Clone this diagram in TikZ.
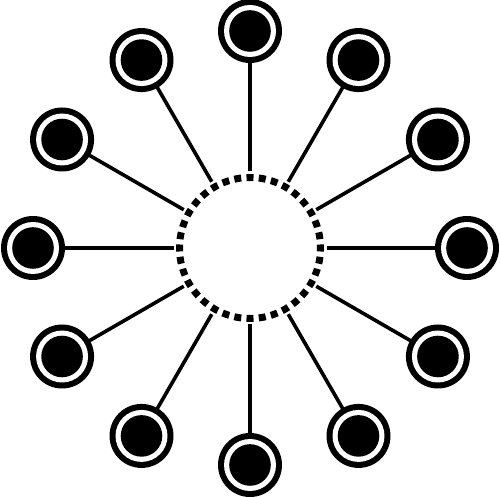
\documentclass[tikz,border=0pt]{standalone}
\usetikzlibrary{calc}
\begin{document}
\begin{tikzpicture}[x=1pt,y=1pt,
  hubnode/.style={circle,draw=black,line width=7pt,minimum size=141pt,inner sep=0pt,outer sep=0pt,
    dash pattern=on 7pt off 5.305pt,dash phase=3.5pt},
  leaf/.style={fill=black},
  ring/.style={fill=white},
  spoke/.style={draw=black,line width=3.6pt,shorten <=6pt,shorten >=31pt}]
\useasboundingbox (0,0) rectangle (500,497);
\node[hubnode] (hub) at (250,249) {};
\foreach \i in {0,...,11}{
  \coordinate (n\i) at ($(hub.center)+({\i*30}:217pt)$);
  \fill[leaf] (n\i) circle[radius=32pt];
  \fill[ring] (n\i) circle[radius=26pt];
  \fill[leaf] (n\i) circle[radius=20.8pt];
  \draw[spoke] (hub) -- (n\i);
}
\end{tikzpicture}
\end{document}
